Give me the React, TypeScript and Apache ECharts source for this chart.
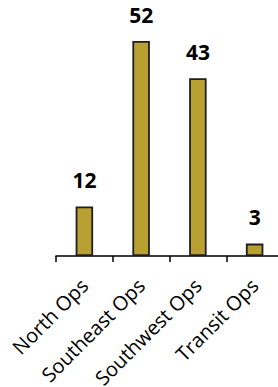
import React, { useEffect, useRef } from "react";
import * as echarts from "echarts";

const categories = ["North Ops", "Southeast Ops", "Southwest Ops", "Transit Ops"];
const values = [12, 52, 43, 3];

export default function App() {
  const ref = useRef<HTMLDivElement>(null);
  useEffect(() => {
    const chart = echarts.init(ref.current!, null, { renderer: "svg" });
    chart.setOption({
      animation: false,
      grid: {
        left: 56,
        right: -5,
        top: 8,
        bottom: 131,
        containLabel: false,
        outerBoundsMode: "none",
      },
      xAxis: {
        type: "category",
        data: categories,
        boundaryGap: true,
        axisLine: { show: true, lineStyle: { color: "#000", width: 1.5 } },
        axisTick: { show: true, length: 6, lineStyle: { color: "#000", width: 1.5 } },
        axisLabel: {
          rotate: 45,
          margin: 26,
          interval: 0,
          color: "#000",
          fontFamily: "Open Sans",
          fontSize: 20,
        },
      },
      yAxis: {
        type: "value",
        min: 0,
        max: 60,
        show: false,
        splitLine: { show: false },
      },
      series: [
        {
          type: "bar",
          data: values,
          barWidth: 17.5,
          itemStyle: { color: "#B8A032", borderColor: "#1e1e1e", borderWidth: 1.8 },
          label: {
            show: true,
            position: "top",
            distance: 16,
            color: "#000",
            fontFamily: "Open Sans",
            fontWeight: "bold",
            fontSize: 21,
          },
        },
      ],
    });
    return () => chart.dispose();
  }, []);
  return (
    <div
      ref={ref}
      style={{ position: "absolute", left: 0, top: 0, width: 278, height: 387 }}
    />
  );
}
